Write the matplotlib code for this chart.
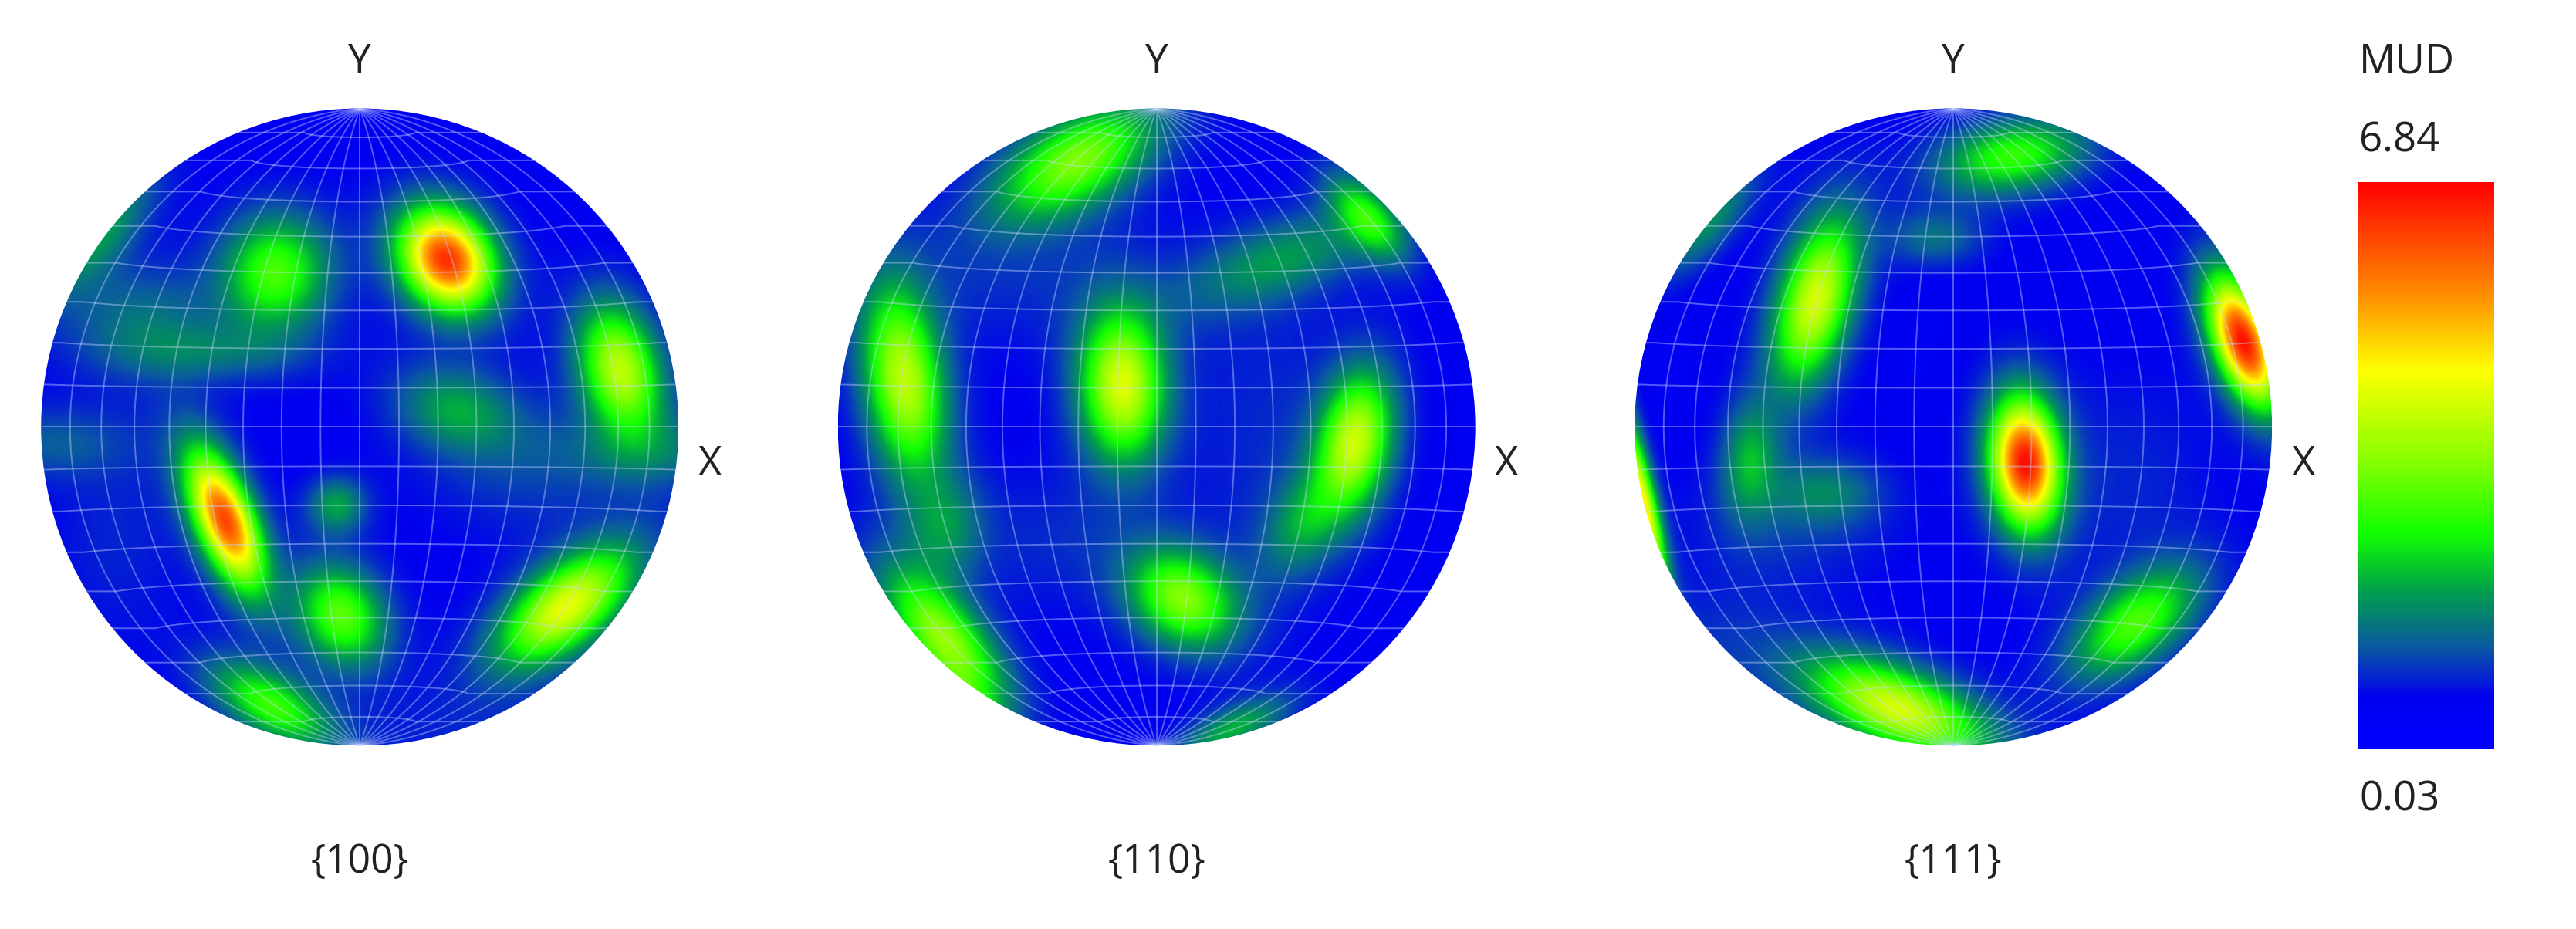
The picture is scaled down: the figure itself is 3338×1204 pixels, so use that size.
import numpy as np
import matplotlib
matplotlib.use("Agg")
import matplotlib.pyplot as plt
from matplotlib.colors import LinearSegmentedColormap, Normalize
from matplotlib.cm import ScalarMappable
from matplotlib.patches import Circle

plt.rcParams['font.family'] = ['Open Sans', 'DejaVu Sans']

W, H = 3338, 1204
S = W / 1568.0   # preview px -> full px

panel_labels = ["{100}", "{110}", "{111}"]
value_min, value_max = 0.03, 6.84
legend_title = "MUD"

# Intensity peaks:
# (x, y) in picture px, long sigma, short sigma, tilt of long axis (deg from +x, screen up), level 0-1
peaks_100 = [
    (272, 158, 20, 15, -55, 0.86), (168, 166, 22, 19, 80, 0.36), (378, 225, 25, 14, -75, 0.50),
    (137, 317, 27, 10, -68, 0.82), (205, 308, 11, 10, 0, 0.20), (208, 375, 20, 15, -60, 0.38),
    (345, 370, 30, 14, 38, 0.56), (165, 430, 26, 11, -30, 0.34), (278, 250, 24, 15, -15, 0.20),
    (60, 140, 30, 12, 50, 0.20), (85, 195, 30, 20, 0, 0.13), (130, 215, 35, 10, 0, 0.10),
    (30, 270, 14, 30, 90, 0.10), (405, 275, 14, 40, 90, 0.10), (320, 290, 40, 25, 0, 0.06),
    (70, 330, 40, 25, 90, 0.05), (290, 450, 60, 20, 0, 0.04),
]
peaks_110 = [
    (655, 98, 34, 16, 30, 0.42), (550, 232, 36, 14, -82, 0.50), (683, 235, 28, 15, -88, 0.54),
    (825, 268, 26, 13, 80, 0.50), (720, 365, 22, 16, -35, 0.42), (575, 390, 32, 13, -50, 0.44),
    (795, 318, 22, 13, 60, 0.18), (780, 158, 40, 14, 20, 0.18), (832, 132, 20, 9, -50, 0.28),
    (575, 322, 20, 14, 90, 0.15), (750, 445, 24, 8, 25, 0.22), (590, 435, 18, 8, -45, 0.26),
    (620, 170, 50, 25, 0, 0.05), (770, 260, 30, 60, 0, 0.05), (640, 330, 35, 25, 0, 0.05),
]
peaks_111 = [
    (1366, 208, 25, 10, -70, 0.90), (1233, 282, 24, 12, -85, 0.90), (1105, 183, 32, 13, 75, 0.54),
    (1155, 432, 36, 14, -22, 0.54), (1300, 380, 28, 14, 38, 0.36), (1225, 95, 28, 13, 10, 0.34),
    (1065, 280, 22, 10, 88, 0.20), (1112, 300, 20, 12, 0, 0.13), (1000, 310, 36, 5, -78, 0.62),
    (1178, 145, 18, 10, 0, 0.13), (1040, 135, 26, 9, 50, 0.18),
    (1090, 320, 40, 25, 0, 0.06), (1300, 290, 30, 40, 0, 0.05), (1040, 400, 30, 25, 0, 0.05),
]
all_peaks = [peaks_100, peaks_110, peaks_111]
centers_x = [219, 704, 1189]
center_y = 260
radius = 194

cmap_pos = [0.0, 0.09, 0.18, 0.28, 0.38, 0.50, 0.67, 0.80, 1.0]
cmap_col = ["#0000ff", "#0000f0", "#0a5aa0", "#00a04a", "#10ff00", "#80ff00", "#ffff00", "#ff9000", "#ff0000"]
cmap = LinearSegmentedColormap.from_list("mud", list(zip(cmap_pos, cmap_col)))

fig = plt.figure(figsize=(W / 100, H / 100), dpi=100, facecolor="white")


def field(peaks, cx):
    u = np.linspace(-1, 1, 500)
    X, Y = np.meshgrid(u, u)
    Z = np.full_like(X, 0.075)
    for px, py, sl, ss, ang, lev in peaks:
        x0, y0 = (px - cx) / radius, (center_y - py) / radius
        a = np.deg2rad(ang)
        dx, dy = X - x0, Y - y0
        p = (dx * np.cos(a) + dy * np.sin(a)) / (1.08 * sl / radius)
        q = (-dx * np.sin(a) + dy * np.cos(a)) / (1.15 * ss / radius)
        r2 = p * p + q * q
        Z = Z + lev * (0.86 * np.exp(-0.5 * r2) + 0.14 * np.exp(-0.5 * r2 / 2.6))
    return Z


def schmidt(lon, lat):
    k = np.sqrt(1.0 / (1 + np.cos(lat) * np.cos(lon)))
    return k * np.cos(lat) * np.sin(lon), k * np.sin(lat)


for peaks, cx, lab in zip(all_peaks, centers_x, panel_labels):
    left = (cx - radius * 1.02) * S / W
    bottom = 1 - (center_y + radius * 1.02) * S / H
    ax = fig.add_axes([left, bottom, 2 * radius * 1.02 * S / W, 2 * radius * 1.02 * S / H])
    ax.set_xlim(-1.02, 1.02)
    ax.set_ylim(-1.02, 1.02)
    ax.axis("off")
    clip = Circle((0, 0), 1.0, transform=ax.transData)
    im = ax.imshow(field(peaks, cx), extent=(-1, 1, -1, 1), origin="lower", cmap=cmap,
                   vmin=0, vmax=1, interpolation="bilinear")
    im.set_clip_path(clip)
    t = np.deg2rad(np.linspace(-90, 90, 181))
    for d in range(-80, 81, 10):
        x, y = schmidt(np.full_like(t, np.deg2rad(d)), t)
        ax.plot(x, y, color="#c8d8ff", lw=1.4, alpha=0.42, clip_path=clip)
        x, y = schmidt(t, np.full_like(t, np.deg2rad(d)))
        y0 = np.sqrt(2) * np.sin(np.deg2rad(d) / 2)
        yb = y0 + 0.2 * (y - y0)
        # carry each parallel on to the rim of the disk
        xe = np.r_[-1.5, x, 1.5]
        ye = np.r_[yb[0], yb, yb[-1]]
        ax.plot(xe, ye, color="#c8d8ff", lw=1.4, alpha=0.42, clip_path=clip)
    fig.text(cx * S / W, 1 - 38 * S / H, "Y", ha="center", va="center", fontsize=38, color="#222222")
    fig.text((cx + 213) * S / W, 1 - 283 * S / H, "X", ha="center", va="center", fontsize=38, color="#222222")
    fig.text(cx * S / W, 1 - 525 * S / H, lab, ha="center", va="center", fontsize=37, color="#222222")

cax = fig.add_axes([1435 * S / W, 1 - 456 * S / H, 83 * S / W, 345 * S / H])
cb = fig.colorbar(ScalarMappable(Normalize(value_min, value_max), cmap), cax=cax)
cb.set_ticks([])
cb.outline.set_visible(False)

fig.text(1436 * S / W, 1 - 38 * S / H, legend_title, ha="left", va="center", fontsize=38, color="#222222")
fig.text(1436 * S / W, 1 - 86 * S / H, f"{value_max:.2f}", ha="left", va="center", fontsize=38, color="#222222")
fig.text(1436 * S / W, 1 - 487 * S / H, f"{value_min:.2f}", ha="left", va="center", fontsize=38, color="#222222")

fig.savefig("out.png", dpi=100)
